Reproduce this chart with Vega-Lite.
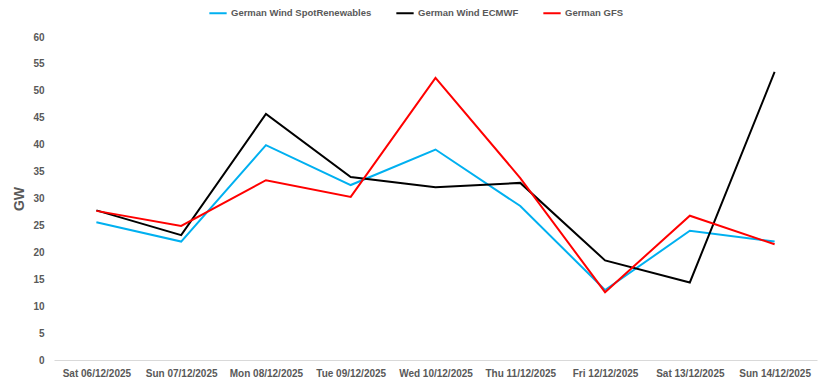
{
  "$schema": "https://vega.github.io/schema/vega-lite/v6.json",
  "width": 763,
  "height": 323,
  "autosize": "none",
  "padding": {"left": 54, "top": 37, "right": 8, "bottom": 20},
  "background": "white",
  "config": {
    "view": {"stroke": null},
    "font": "Liberation Sans"
  },
  "data": {
    "values": [
      {"date": "Sat 06/12/2025", "series": "German Wind SpotRenewables", "value": 25.6},
      {"date": "Sun 07/12/2025", "series": "German Wind SpotRenewables", "value": 22.0},
      {"date": "Mon 08/12/2025", "series": "German Wind SpotRenewables", "value": 39.9},
      {"date": "Tue 09/12/2025", "series": "German Wind SpotRenewables", "value": 32.5},
      {"date": "Wed 10/12/2025", "series": "German Wind SpotRenewables", "value": 39.1},
      {"date": "Thu 11/12/2025", "series": "German Wind SpotRenewables", "value": 28.6},
      {"date": "Fri 12/12/2025", "series": "German Wind SpotRenewables", "value": 13.0},
      {"date": "Sat 13/12/2025", "series": "German Wind SpotRenewables", "value": 24.0},
      {"date": "Sun 14/12/2025", "series": "German Wind SpotRenewables", "value": 22.0},
      {"date": "Sat 06/12/2025", "series": "German Wind ECMWF", "value": 27.8},
      {"date": "Sun 07/12/2025", "series": "German Wind ECMWF", "value": 23.2},
      {"date": "Mon 08/12/2025", "series": "German Wind ECMWF", "value": 45.7},
      {"date": "Tue 09/12/2025", "series": "German Wind ECMWF", "value": 34.0},
      {"date": "Wed 10/12/2025", "series": "German Wind ECMWF", "value": 32.1},
      {"date": "Thu 11/12/2025", "series": "German Wind ECMWF", "value": 32.9},
      {"date": "Fri 12/12/2025", "series": "German Wind ECMWF", "value": 18.5},
      {"date": "Sat 13/12/2025", "series": "German Wind ECMWF", "value": 14.4},
      {"date": "Sun 14/12/2025", "series": "German Wind ECMWF", "value": 53.5},
      {"date": "Sat 06/12/2025", "series": "German GFS", "value": 27.7},
      {"date": "Sun 07/12/2025", "series": "German GFS", "value": 24.9},
      {"date": "Mon 08/12/2025", "series": "German GFS", "value": 33.4},
      {"date": "Tue 09/12/2025", "series": "German GFS", "value": 30.3},
      {"date": "Wed 10/12/2025", "series": "German GFS", "value": 52.4},
      {"date": "Thu 11/12/2025", "series": "German GFS", "value": 33.8},
      {"date": "Fri 12/12/2025", "series": "German GFS", "value": 12.6},
      {"date": "Sat 13/12/2025", "series": "German GFS", "value": 26.8},
      {"date": "Sun 14/12/2025", "series": "German GFS", "value": 21.5}
    ]
  },
  "mark": {"type": "line", "strokeWidth": 2, "strokeJoin": "miter"},
  "encoding": {
    "x": {
      "field": "date",
      "type": "ordinal",
      "sort": null,
      "scale": {"type": "point", "padding": 0.5},
      "axis": {
        "title": null,
        "labelAngle": 0,
        "labelFont": "Liberation Sans",
        "labelFontWeight": "bold",
        "labelFontSize": 10,
        "labelColor": "#595959",
        "labelPadding": 8,
        "ticks": false,
        "domainColor": "#d9d9d9",
        "domainWidth": 1,
        "grid": false
      }
    },
    "y": {
      "field": "value",
      "type": "quantitative",
      "scale": {"domain": [0, 60], "nice": false},
      "axis": {
        "title": "GW",
        "titleFont": "Liberation Sans",
        "titleFontWeight": "bold",
        "titleFontSize": 14,
        "titleColor": "#595959",
        "titlePadding": 6,
        "values": [0, 5, 10, 15, 20, 25, 30, 35, 40, 45, 50, 55, 60],
        "labelFont": "Liberation Sans",
        "labelFontWeight": "bold",
        "labelFontSize": 10,
        "labelColor": "#595959",
        "labelPadding": 10,
        "ticks": false,
        "domain": false,
        "grid": false
      }
    },
    "color": {
      "field": "series",
      "type": "nominal",
      "scale": {
        "domain": ["German Wind SpotRenewables", "German Wind ECMWF", "German GFS"],
        "range": ["#00B0F0", "#000000", "#FF0000"]
      },
      "legend": {
        "title": null,
        "orient": "none",
        "legendX": 154,
        "legendY": -34,
        "direction": "horizontal",
        "symbolType": "stroke",
        "symbolStrokeWidth": 2,
        "symbolSize": 300,
        "labelFont": "Liberation Sans",
        "labelFontWeight": "bold",
        "labelFontSize": 9.5,
        "labelColor": "#595959",
        "labelOffset": 3,
        "columnPadding": 20
      }
    }
  }
}
